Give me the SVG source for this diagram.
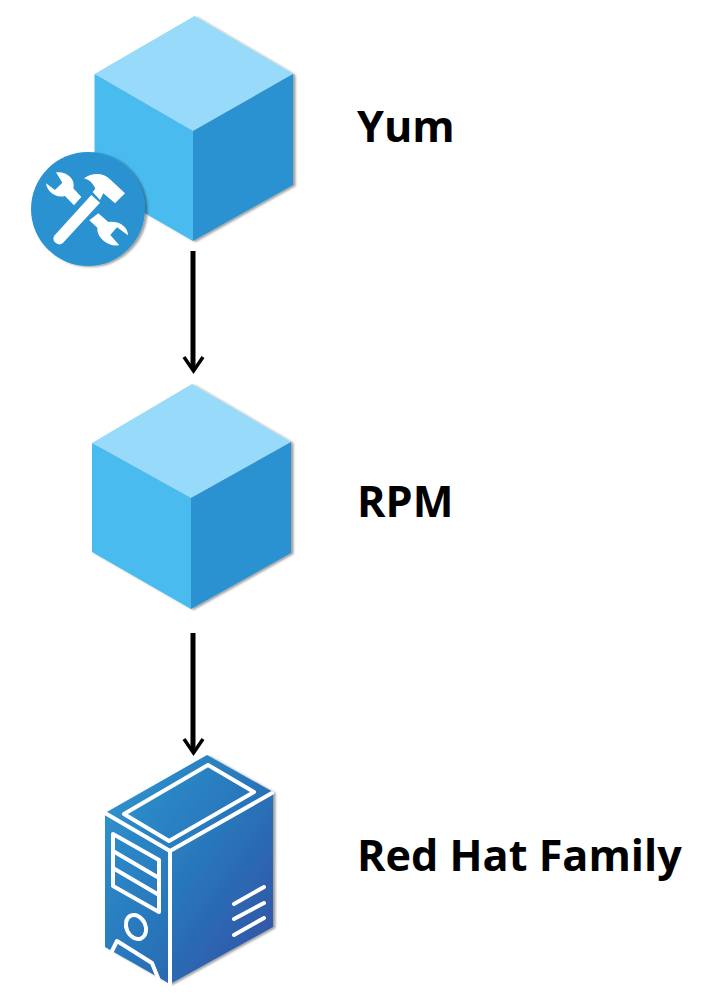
<svg xmlns="http://www.w3.org/2000/svg" width="720" height="1000" viewBox="0 0 720 1000">
<defs>
<filter id="sh" x="-10%" y="-10%" width="125%" height="125%"><feDropShadow dx="2.500" dy="1" stdDeviation="1.100" flood-color="#000" flood-opacity="0.38"/></filter>
<linearGradient id="srv" gradientUnits="userSpaceOnUse" x1="110" y1="810" x2="275" y2="925"><stop offset="0" stop-color="#2E8FCB"/><stop offset="0.5" stop-color="#2877BB"/><stop offset="1" stop-color="#3158A8"/></linearGradient>
<style>
.t{font-family:"Open Sans","DejaVu Sans",sans-serif;font-weight:700;font-size:43.200px;fill:#000}
.top{fill:#97DAF9}.lft{fill:#4ABBEE}.rgt{fill:#2A92D0}
.w{fill:none;stroke:#fff;stroke-linejoin:round;stroke-linecap:round;stroke-width:4}
.c{stroke:#000;stroke-width:5;fill:none}
.h{fill:none;stroke:#000;stroke-width:3.500}
</style>
</defs>
<g id="connectors">
<line class="c" x1="193" y1="251" x2="193" y2="369"/>
<path class="h" d="M184 357 L193.500 371 L203 357"/>
<line class="c" x1="193" y1="633" x2="193" y2="751"/>
<path class="h" d="M184 739 L193.500 753 L203 739"/>
</g>
<g id="yum">
<g filter="url(#sh)">
<path class="top" d="M194.500 16 L293 74 L193 131 L94.500 74Z"/>
<path class="lft" d="M94.500 74 L193 131 L193 241 L94.500 184Z"/>
<path class="rgt" d="M293 74 L293 185 L193 241 L193 131Z"/>
</g>
<g filter="url(#sh)"><circle cx="88" cy="209" r="57" fill="#2A92D0"/></g>
<g transform="translate(20 140) scale(.3333)" fill="#fff">
<path d="M108 97 C140 93 168 118 160 145 L184 171 L162 196 L135 168 C105 176 80 152 78 130 L105 150 L127 128Z"/>
<path d="M235 220 L265 246 C295 240 325 260 324 286 L291 262 L271 285 L298 316 C262 320 230 292 232 263 L208 241Z"/>
<path d="M192 115 C215 98 250 97 270 118 L315 160 L285 190 L250 160 L240 180 L218 156 L226 146 C220 130 208 120 192 115Z"/>
<path d="M214 165 L240 188 L128 310 Q116 318 104 306 Q96 296 104 286Z"/>
</g>
</g>
<g id="rpm" filter="url(#sh)">
<path class="top" d="M192 384 L291 442 L191 498 L92 443Z"/>
<path class="lft" d="M92 443 L191 498 L191 609 L92 552Z"/>
<path class="rgt" d="M291 442 L291 553 L191 609 L191 498Z"/>
</g>
<g id="server">
<path filter="url(#sh)" fill="url(#srv)" d="M207 755 L273 792 L273 927 L170 984 L105 947 L105 813Z"/>
<g class="w">
<path d="M105 813 L170 851 L272 793"/>
<path d="M170 851 L170 984"/>
<path d="M208 765 L254 792 L169 841 L124 814Z"/>
<path d="M113 834 L159 860 L159 912 L113 886Z"/>
<path d="M113 851 L159 878 M113 868 L159 895"/>
<ellipse cx="136" cy="927" rx="9.500" ry="12.500" transform="rotate(-25 136 927)"/>
<path d="M112 951 L117 941 L152 963 L160 983"/>
<path d="M234 904 L264 887 M234 919 L264 903 M234 935 L264 918"/>
</g>
</g>
<text class="t" x="357" y="142">Yum</text>
<text class="t" x="357" y="517">RPM</text>
<text class="t" x="357" y="871">Red Hat Family</text>
</svg>
